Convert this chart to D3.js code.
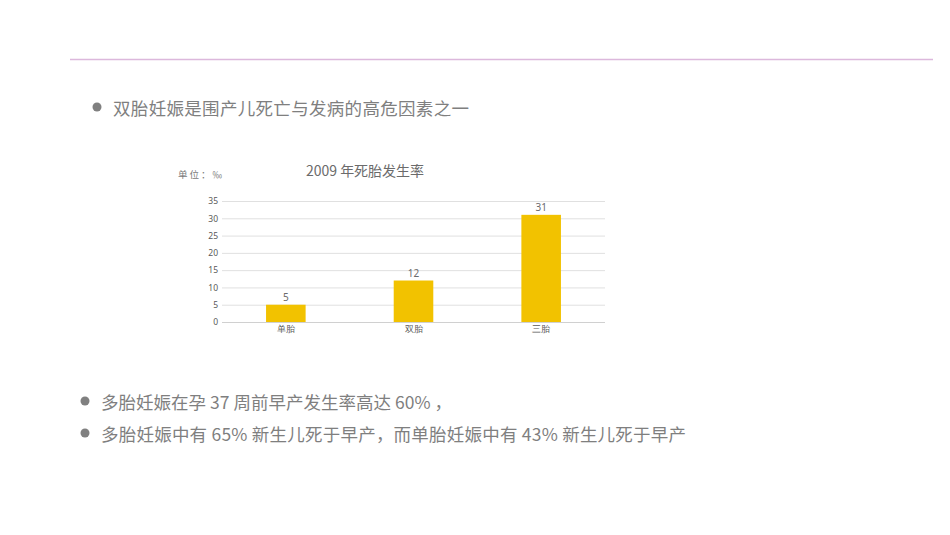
<!DOCTYPE html>
<html lang="zh">
<head>
<meta charset="UTF-8">
<title>2009 年死胎发生率</title>
<script src="https://d3js.org/d3.v7.min.js"></script>
<style>
  body { margin: 0; background: #fff; }
  svg { display: block; font-family: "Noto Sans CJK SC", "Noto Sans", sans-serif; }
</style>
</head>
<body>
<svg width="950" height="535"></svg>
<script>
// chart data
const categories = ["单胎", "双胎", "三胎"]
const values = [5, 12, 31]
const yTicks = [0, 5, 10, 15, 20, 25, 30, 35]

const bullets = [
  { text: "双胎妊娠是围产儿死亡与发病的高危因素之一", x: 97, y: 107, w: 356 },
  { text: "多胎妊娠在孕 37 周前早产发生率高达 60% ，", x: 85, y: 401, w: 351 },
  { text: "多胎妊娠中有 65% 新生儿死于早产，而单胎妊娠中有 43% 新生儿死于早产", x: 85, y: 433, w: 585 }
]

const svg = d3.select("svg")

// top rule
svg.append("line")
  .attr("x1", 70).attr("x2", 933)
  .attr("y1", 59.5).attr("y2", 59.5)
  .attr("stroke", "#dcb8dc").attr("stroke-width", 1.5)

// bullet text
bullets.forEach(b => {
  svg.append("circle").attr("cx", b.x).attr("cy", b.y).attr("r", 4.5).attr("fill", "#808080")
  svg.append("text").attr("x", b.x + 16).attr("y", b.y)
    .attr("dominant-baseline", "central")
    .attr("font-size", 17.5).attr("fill", "#7f7f7f")
    .attr("textLength", b.w).attr("lengthAdjust", "spacing")
    .text(b.text)
})

// chart
const plotL = 222, plotR = 605, plotT = 201, plotB = 322

const x = d3.scaleBand().domain(categories).range([plotL, plotR])
  .paddingInner(0.69).paddingOuter(0.345)
const y = d3.scaleLinear().domain([0, 35]).range([plotB, plotT])

const g = svg.append("g")

g.append("text").attr("x", 365).attr("y", 170)
  .attr("text-anchor", "middle").attr("dominant-baseline", "central")
  .attr("font-size", 14).attr("fill", "#6b6b6b")
  .attr("textLength", 118).attr("lengthAdjust", "spacing")
  .text("2009 年死胎发生率")

g.append("text").attr("x", 178).attr("y", 174)
  .attr("dominant-baseline", "central")
  .attr("font-size", 9.5).attr("fill", "#7a7a7a")
  .attr("textLength", 44).attr("lengthAdjust", "spacing")
  .text("单位：‰")

const yAxis = g.append("g")
  .attr("transform", `translate(${plotL},0)`)
  .call(d3.axisLeft(y).tickValues(yTicks).tickSize(-(plotR - plotL)).tickPadding(4))
yAxis.select(".domain").remove()
yAxis.selectAll(".tick line").attr("stroke", "#e0e0e0")
yAxis.selectAll(".tick").filter(d => d === 0).select("line").attr("stroke", "#d0d0d0")
yAxis.selectAll(".tick text").attr("font-size", 8.5).attr("fill", "#595959")
  .attr("font-family", "\"Noto Sans\", sans-serif")

const xAxis = g.append("g")
  .attr("transform", `translate(0,${plotB})`)
  .call(d3.axisBottom(x).tickSize(0).tickPadding(4))
xAxis.select(".domain").remove()
xAxis.selectAll(".tick text").attr("font-size", 9).attr("fill", "#595959")

g.selectAll(".bar")
  .data(values)
  .join("rect")
  .attr("class", "bar")
  .attr("x", (d, i) => x(categories[i]))
  .attr("width", x.bandwidth())
  .attr("y", d => y(d))
  .attr("height", d => y(0) - y(d))
  .attr("fill", "#f2c200")

g.selectAll(".val")
  .data(values)
  .join("text")
  .attr("class", "val")
  .attr("x", (d, i) => x(categories[i]) + x.bandwidth() / 2)
  .attr("y", d => y(d) - 8)
  .attr("text-anchor", "middle").attr("dominant-baseline", "central")
  .attr("font-size", 10).attr("fill", "#6b6b6b")
  .attr("font-family", "\"Noto Sans\", sans-serif")
  .text(d => d)
</script>
</body>
</html>
